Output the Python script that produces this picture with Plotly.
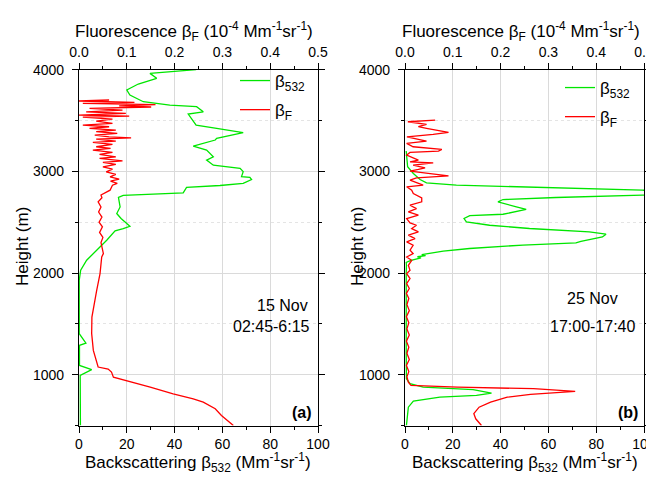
import plotly.graph_objects as go

# ---- panel (a) 15 Nov, 02:45-6:15 ----
# green: backscattering beta_532 (Mm-1 sr-1), bottom axis
h_a_532 = [4000, 3964, 3915, 3859, 3800, 3750, 3685, 3652, 3636, 3586, 3564, 3488, 3455, 3423,
           3380, 3324, 3308, 3248, 3209, 3143, 3111, 3061, 3029, 2997, 2948, 2940, 2920, 2882,
           2861, 2842, 2789, 2763, 2743, 2650, 2585, 2536, 2460, 2437, 2414, 2322, 2224, 2126,
           2027, 1930, 1404, 1311, 1288, 1091, 1049, 993, 500]
b532_a = [49, 29.7, 32.5, 24.8, 20, 21.3, 26.9, 38, 49.2, 52, 45.7, 47.8, 49, 57.6,
          68.7, 57.6, 57, 47.8, 53.4, 56.2, 53.4, 56.2, 67.4, 68.7, 68, 71.5, 72.2, 68.7,
          59, 45, 43.6, 18.5, 16.5, 17.2, 15.8, 17.6, 21.3, 18.5, 15.1, 11.6, 7.4, 3.2,
          0.7, 0.1, 0.1, 2.9, 0.2, 0.2, 5.3, 0.5, 0.6]

# red: fluorescence beta_F (1e-4 Mm-1 sr-1), top axis
h_a_f = [500, 599, 665, 730, 763, 812, 877, 937, 976, 1025, 1055, 1075, 1140, 1239, 1404,
         1567, 1830, 1994, 2158, 2191, 2300, 2350, 2400, 2454, 2500, 2550, 2600, 2650, 2700,
         2717, 2740, 2767, 2815, 2864, 2881, 2904, 2923, 2946, 2970, 2995, 3022, 3045, 3068,
         3088, 3104, 3127, 3143, 3167, 3186, 3209, 3226, 3242, 3265, 3285, 3298, 3317, 3330,
         3340, 3357, 3374, 3390, 3406, 3423, 3439, 3455, 3472, 3495, 3514, 3534, 3544, 3554,
         3570, 3586, 3603, 3620, 3633, 3645, 3657, 3669, 3679, 3692, 3702]
bf_a = [0.323, 0.298, 0.285, 0.26, 0.239, 0.197, 0.149, 0.0998, 0.072, 0.068, 0.061, 0.040,
        0.036, 0.030, 0.0265, 0.027, 0.037, 0.044, 0.0475, 0.051, 0.046, 0.050, 0.043, 0.049,
        0.042, 0.048, 0.041, 0.046, 0.040, 0.044, 0.048, 0.046, 0.065, 0.070, 0.080, 0.066,
        0.084, 0.065, 0.077, 0.057, 0.070, 0.050, 0.077, 0.050, 0.091, 0.043, 0.077, 0.043,
        0.070, 0.029, 0.066, 0.036, 0.070, 0.029, 0.077, 0.036, 0.109, 0.063, 0.033, 0.080,
        0.036, 0.077, 0.022, 0.063, 0.008, 0.070, 0.036, 0.070, 0.008, 0.105, 0.0, 0.098,
        0.015, 0.091, 0.022, 0.151, 0.084, 0.160, 0.008, 0.116, 0.0, 0.063]

# ---- panel (b) 25 Nov, 17:00-17:40 ----
h_b_532 = [500, 680, 740, 779, 796, 819, 852, 877, 911, 960, 1200, 1600, 2000, 2076, 2105,
           2125, 2150, 2160, 2170, 2180, 2191, 2215, 2241, 2275, 2296, 2312, 2355, 2382, 2405,
           2438, 2470, 2503, 2536, 2565, 2578, 2601, 2625, 2651, 2677, 2700, 2723, 2743, 2766,
           2790, 2815, 2828, 2842, 2865, 2887, 2920, 2979, 3045, 3200]
b532_b = [0.6, 1.4, 3.5, 14.6, 29.9, 36.2, 28.5, 7.6, 2.1, 0.6, 0.5, 0.4, 0.5, 0.6, 0.5,
          2.5, 6.7, 5.2, 8.6, 7, 10.5, 16, 27, 49.3, 71.5, 73.6, 82.6, 84.1, 77.1,
          52.1, 35.4, 25.7, 24.7, 27.1, 41, 46.3, 50.7, 46.6, 42.4, 38.9, 41, 63.2, 99.3,
          125, 99.3, 77.1, 49.3, 21.5, 9, 6.3, 3.5, 1.1, 0.5]

h_b_f = [500, 566, 616, 680, 730, 779, 806, 836, 862, 877, 894, 926, 980, 1030, 1090, 1150,
         1210, 1270, 1330, 1390, 1450, 1510, 1570, 1630, 1690, 1750, 1800, 1847, 1896, 1945,
         1994, 2027, 2076, 2125, 2158, 2191, 2224, 2273, 2306, 2339, 2372, 2404, 2437, 2470,
         2493, 2536, 2569, 2602, 2634, 2667, 2700, 2739, 2782, 2815, 2848, 2864, 2914, 2936,
         2956, 2979, 3002, 3019, 3035, 3061, 3084, 3094, 3110, 3160, 3186, 3199, 3216, 3242,
         3275, 3298, 3340, 3363, 3383, 3423, 3439, 3462, 3488, 3504]
bf_b = [0.160, 0.148, 0.144, 0.155, 0.179, 0.214, 0.2625, 0.356, 0.269, 0.11, 0.0125, 0.007,
        0.004, 0.008, 0.003, 0.009, 0.004, 0.008, 0.003, 0.009, 0.004, 0.008, 0.003, 0.009,
        0.004, 0.008, 0.003, 0.009, 0.0035, 0.0105, 0.0035, 0.0105, 0.007, 0.014, 0.0035,
        0.017, 0.0105, 0.017, 0.0035, 0.021, 0.007, 0.028, 0.014, 0.024, 0.0105, 0.0035,
        0.028, 0.007, 0.024, 0.0105, 0.035, 0.035, 0.0174, 0.014, 0.0035, 0.038, 0.0105,
        0.024, 0.091, 0.052, 0.0105, 0.028, 0.042, 0.017, 0.059, 0.0105, 0.028, 0.0035,
        0.0105, 0.070, 0.077, 0.017, 0.0035, 0.045, 0.004, 0.059, 0.091, 0.045, 0.028,
        0.045, 0.006, 0.063]

# page body has an 8px margin: figure reaches the right edge of the window,
# and stays short enough that no vertical scrollbar appears
OFF = 8
W, H = 654 - OFF, 483 - 2 * OFF
FONT = 'Arial, "Liberation Sans", sans-serif'
GREEN = '#00e600'
RED = '#ff0000'


def px(x):
    return (x - OFF) / W


def py(y):
    return 1 - (y - OFF) / H


dom_a = [px(79), px(318)]
dom_b = [px(405), px(644)]
dom_y = [py(425.5), py(69.7)]

fig = go.Figure()

fig.add_trace(go.Scatter(x=b532_a, y=h_a_532, xaxis='x', yaxis='y', mode='lines', legendgroup='a1',
                         line=dict(color=GREEN, width=1.3), name='β<sub>532</sub>', legend='legend'))
fig.add_trace(go.Scatter(x=bf_a, y=h_a_f, xaxis='x2', yaxis='y', mode='lines', legendgroup='a2',
                         line=dict(color=RED, width=1.3), name='β<sub>F</sub>', legend='legend'))
fig.add_trace(go.Scatter(x=b532_b, y=h_b_532, xaxis='x3', yaxis='y2', mode='lines', legendgroup='b1',
                         line=dict(color=GREEN, width=1.3), name='β<sub>532</sub>', legend='legend2'))
fig.add_trace(go.Scatter(x=bf_b, y=h_b_f, xaxis='x4', yaxis='y2', mode='lines', legendgroup='b2',
                         line=dict(color=RED, width=1.3), name='β<sub>F</sub>', legend='legend2'))

tickfont = dict(family=FONT, size=14, color='black')
bottom = dict(range=[0, 100], dtick=20, tick0=0, showgrid=True, gridcolor='#dadada', gridwidth=1,
              showline=True, linecolor='black', linewidth=1.3, ticks='outside', ticklen=6,
              tickwidth=1.3, tickcolor='black', tickfont=tickfont, zeroline=False, automargin=False,
              ticklabeloverflow='allow',
              minor=dict(dtick=10, ticks='outside', ticklen=3, tickcolor='black', showgrid=False))
top = dict(range=[0, 0.5], dtick=0.1, tick0=0, tickformat='.1f', side='top', showgrid=False,
           showline=True, linecolor='black', linewidth=1.3, ticks='outside', ticklen=6,
           tickwidth=1.3, tickcolor='black', tickfont=tickfont, zeroline=False, automargin=False,
           ticklabeloverflow='allow',
           minor=dict(dtick=0.05, ticks='outside', ticklen=3, tickcolor='black'))
yax = dict(range=[500, 4000], dtick=1000, tick0=0, showgrid=True, gridcolor='#dadada', gridwidth=1,
           showline=True, linecolor='black', linewidth=1.3, ticks='outside', ticklen=6,
           tickwidth=1.3, tickcolor='black', tickfont=tickfont, zeroline=False, mirror='ticks',
           domain=dom_y, automargin=False, ticklabelstandoff=5,
           minor=dict(dtick=500, tick0=0, ticks='outside', ticklen=3, tickcolor='black',
                      showgrid=True, gridcolor='#e4e4e4', griddash='dot'))

legend_style = dict(font=dict(family=FONT, size=17, color='black'), bgcolor='rgba(0,0,0,0)',
                    xanchor='left', yanchor='top', tracegroupgap=4, itemwidth=30)

fig.update_layout(
    width=W, height=H,
    margin=dict(l=0, r=0, t=0, b=0),
    paper_bgcolor='white', plot_bgcolor='white',
    font=dict(family=FONT, color='black'),
    xaxis=dict(bottom, domain=dom_a, anchor='y'),
    xaxis2=dict(top, overlaying='x', anchor='y'),
    xaxis3=dict(bottom, domain=dom_b, anchor='y2'),
    xaxis4=dict(top, overlaying='x3', anchor='y2'),
    yaxis=dict(yax, anchor='x'),
    yaxis2=dict(yax, anchor='x3'),
    legend=dict(legend_style, x=px(235), y=py(63)),
    legend2=dict(legend_style, x=px(560), y=py(70)),
    showlegend=True,
)

title_font = dict(family=FONT, size=17, color='black')
text_font = dict(family=FONT, size=16, color='black')
ann = []
fl = 'Fluorescence β<sub>F</sub> (10<sup>-4</sup> Mm<sup>-1</sup>sr<sup>-1</sup>)'
bs = 'Backscattering β<sub>532</sub> (Mm<sup>-1</sup>sr<sup>-1</sup>)'
for cx, hx in [(194, 22), (521, 357)]:
    ann.append(dict(text=fl, x=px(cx), y=py(32), xanchor='center', yanchor='middle', font=title_font))
    ann.append(dict(text=bs, x=px(cx + 4), y=py(462), xanchor='center', yanchor='middle', font=title_font))
    ann.append(dict(text='Height (m)', x=px(hx), y=py(247), xanchor='center', yanchor='middle',
                    textangle=-90, font=title_font))
ann.append(dict(text='15 Nov', x=px(310), y=py(305), xanchor='right', yanchor='middle'))
ann.append(dict(text='02:45-6:15', x=px(312), y=py(326), xanchor='right', yanchor='middle'))
ann.append(dict(text='<b>(a)</b>', x=px(314), y=py(412), xanchor='right', yanchor='middle'))
ann.append(dict(text='25 Nov', x=px(620), y=py(298), xanchor='right', yanchor='middle'))
ann.append(dict(text='17:00-17:40', x=px(638), y=py(326), xanchor='right', yanchor='middle'))
ann.append(dict(text='<b>(b)</b>', x=px(640), y=py(412), xanchor='right', yanchor='middle'))
for a in ann:
    a.update(xref='paper', yref='paper', showarrow=False)
    a.setdefault('font', text_font)
fig.update_layout(annotations=ann)

fig.write_html("out.html")
